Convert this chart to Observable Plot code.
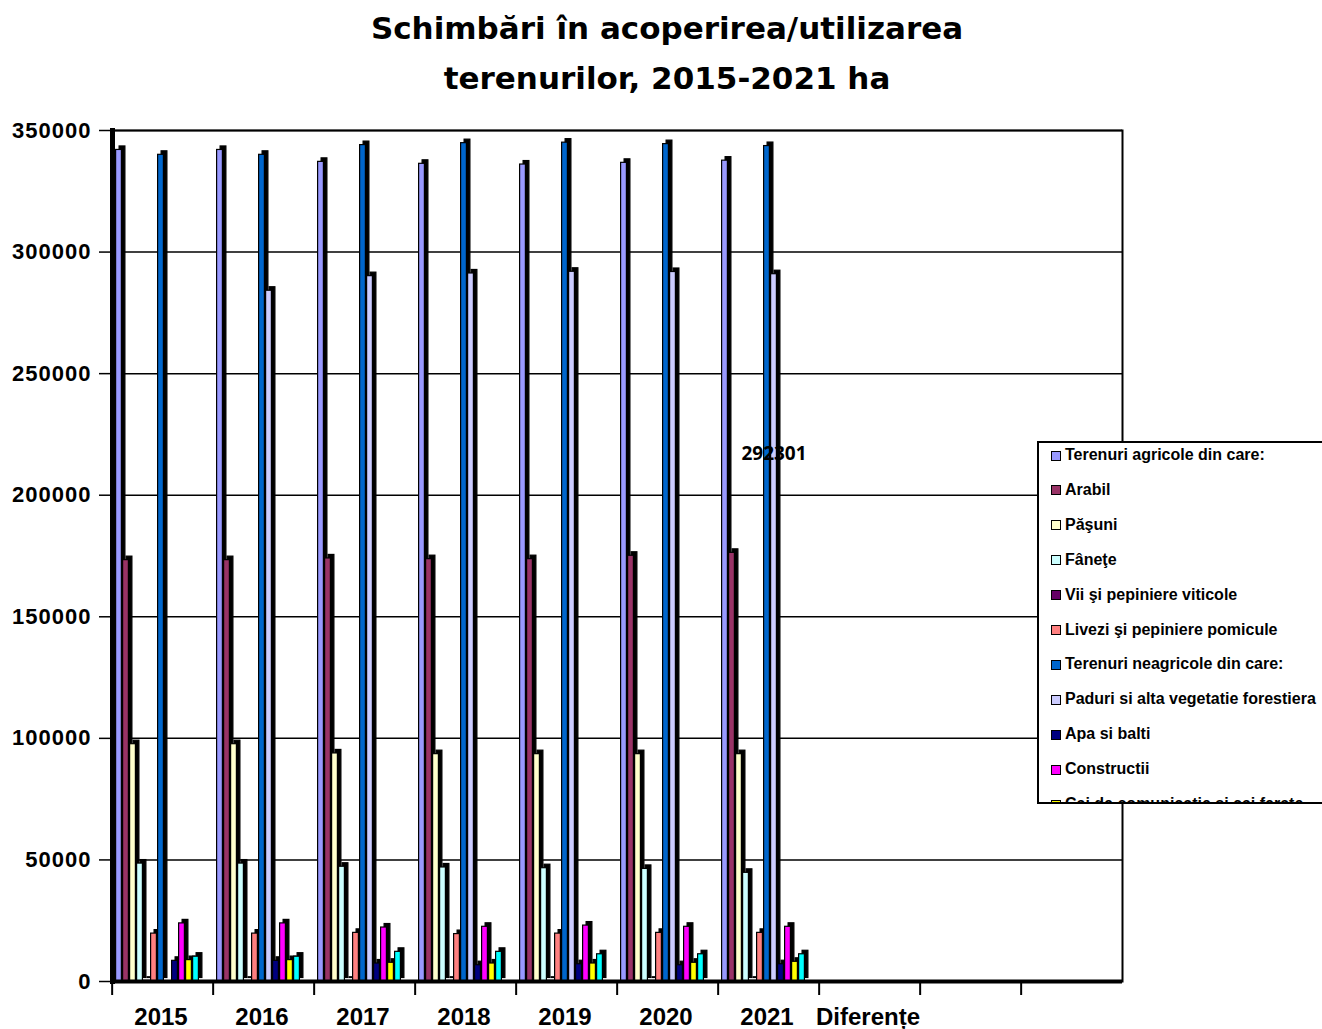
<!DOCTYPE html>
<html><head><meta charset="utf-8">
<script src="https://cdn.jsdelivr.net/npm/d3@7"></script>
<script src="https://cdn.jsdelivr.net/npm/@observablehq/plot@0.6"></script>
<style>
body{margin:0;background:#fff;width:1322px;height:1029px;position:relative;overflow:hidden;}
#title{height:100px;box-sizing:border-box;padding-top:3px;padding-left:12px;text-align:center;font-family:"DejaVu Sans";font-weight:bold;font-size:31px;line-height:50px;color:#000;}
#chart svg{display:block;}
#chart svg g[aria-label="y-axis tick label"] text{letter-spacing:1px;}
#legend{position:absolute;left:1037px;top:441px;width:320px;height:359px;border:2px solid #000;background:#fff;overflow:hidden;font-family:"Liberation Sans";font-weight:bold;font-size:16px;color:#000;}
#legend .item{position:absolute;left:0;height:35px;line-height:35px;white-space:nowrap;padding-left:12px;}
#legend .sw{display:inline-block;width:8px;height:8px;border:1.5px solid #000;margin-right:4px;vertical-align:-0.5px;}
</style></head>
<body>
<div id="title">Schimbări în acoperirea/utilizarea<br>terenurilor, 2015-2021 ha</div>
<div id="chart"></div>
<div id="legend"></div>
<script>
const years = ["2015","2016","2017","2018","2019","2020","2021"];
const groups = ["2015","2016","2017","2018","2019","2020","2021","Diferențe","gol1","gol2"];
const series = ["Terenuri agricole din care:","Arabil","Păşuni","Fâneţe","Vii şi pepiniere viticole","Livezi şi pepiniere pomicule","Terenuri neagricole din care:","Paduri si alta vegetatie forestiera","Apa si balti","Constructii","Cai de comunicatie si cai ferate","Alte terenuri"];
const colors = ["#9999FF","#993366","#FFFFCC","#CCFFFF","#660066","#FF8080","#0066CC","#CCCCFF","#000080","#FF00FF","#FFFF00","#00FFFF"];
const yTicks = [0,50000,100000,150000,200000,250000,300000,350000];

const agricole   = [342000,342000,337100,336300,336000,336700,337600];
const arabil     = [173300,173300,174000,173700,173700,175100,176300];
const pasuni     = [97600,97600,93800,93500,93500,93500,93500];
const fanete     = [48500,48500,47200,46900,46600,46300,44700];
const vii        = [300,300,300,300,300,300,300];
const livezi     = [19700,19700,20000,19500,19700,20000,20000];
const neagricole = [340000,340000,344000,344800,345000,344400,343600];
const paduri     = [0,284100,290100,291200,291900,291800,290900];
const apa        = [8500,8500,7400,6700,7100,6700,7100];
const constructii= [23900,23900,22200,22500,23000,22500,22500];
const cai        = [8800,8800,7700,7400,7400,7700,8100];
const alte       = [10200,10200,12200,12200,11200,11200,11200];
const values = [agricole,arabil,pasuni,fanete,vii,livezi,neagricole,paduri,apa,constructii,cai,alte];

const annotText = "292301";
const annotAt = 217000;

const rows = [];
series.forEach((s,i)=>years.forEach((y,j)=>rows.push({group:y, series:s, value:values[i][j]})));

const W = 1322, H = 929, mL = 108, mR = 197, mT = 30, mB = 48;
const bw = (W - mL - mR) / groups.length;
const yMax = yTicks[yTicks.length-1];

const marks = [
  Plot.gridY(yTicks, {stroke:"#000", strokeOpacity:1, strokeWidth:1.5})
];
series.forEach((s,i)=>{
  const d = rows.filter(r=>r.series===s);
  marks.push(Plot.barY(d, {fx:"group", x:"series", y:"value", fill:"#000", stroke:"#000", strokeWidth:1.2, insetLeft:0.6, insetRight:0.6, dx:3.5, dy:-3.5}));
  marks.push(Plot.barY(d, {fx:"group", x:"series", y:"value", fill:colors[i], stroke:"#000", strokeWidth:1.2, insetLeft:0.6, insetRight:0.6}));
});
marks.push(
  Plot.ruleY(groups, {fx:d=>d, y:()=>yMax, stroke:"#000", strokeWidth:2}),
  Plot.ruleY(groups, {fx:d=>d, y:()=>0, stroke:"#000", strokeWidth:4}),
  Plot.frame({facet:"super", anchor:"left", stroke:"#000", strokeWidth:5}),
  Plot.frame({facet:"super", anchor:"right", stroke:"#000", strokeWidth:2}),
  Plot.text([{group:"2021", series:series[7], label:annotText}], {fx:"group", x:"series", y:()=>annotAt, text:"label", fontFamily:"Open Sans", fontSize:19, fontWeight:"bold", fill:"#000"}),
  Plot.axisY(yTicks, {tickSize:13, tickPadding:8, tickFormat:d3.format("d"), fontSize:22, fontWeight:"bold", label:null, strokeWidth:1.5}),
  Plot.axisFx({anchor:"bottom", tickSize:0, tickPadding:26, fontSize:24, fontWeight:"bold", label:null, dx:-2, tickFormat:d=>d.startsWith("gol")?"":d}),
  Plot.axisFx({anchor:"bottom", tickSize:14, tickPadding:0, label:null, tickFormat:()=>"", dx:-bw/2, strokeWidth:2})
);

const chart = Plot.plot({
  width:W, height:H, marginTop:mT, marginBottom:mB, marginLeft:mL, marginRight:mR,
  style:{fontFamily:"Liberation Sans", fontWeight:"bold", color:"#000", background:"#fff", overflow:"visible"},
  fx:{domain:groups, padding:0, label:null},
  x:{domain:series, paddingInner:0, paddingOuter:1.0625, align:0.17, axis:null},
  y:{domain:[0,yMax], label:null},
  marks
});
document.getElementById("chart").appendChild(chart);

const legend = document.getElementById("legend");
series.forEach((s,i)=>{
  const it = document.createElement("div");
  it.className = "item";
  it.style.top = (-6 + i*34.9) + "px";
  const sw = document.createElement("span");
  sw.className = "sw";
  sw.style.background = colors[i];
  it.appendChild(sw);
  it.appendChild(document.createTextNode(s));
  legend.appendChild(it);
});
</script>
</body></html>
